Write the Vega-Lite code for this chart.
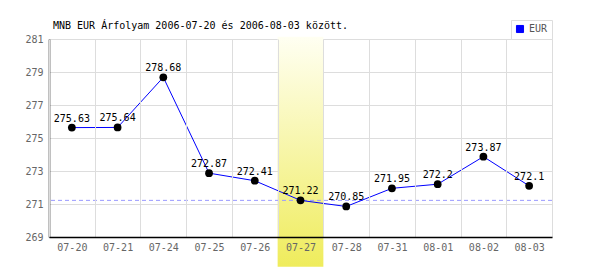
{
  "$schema": "https://vega.github.io/schema/vega-lite/v6.json",
  "autosize": "none",
  "width": 503,
  "height": 198,
  "padding": {"left": 49, "top": 39, "right": 48, "bottom": 33},
  "background": "white",
  "config": {
    "view": {"stroke": null},
    "font": "DejaVu Sans Mono",
    "axis": {"labelFont": "DejaVu Sans Mono", "labelFontSize": 10, "labelColor": "#666666", "gridColor": "#dddddd", "gridWidth": 1, "ticks": false, "domainColor": "#000000", "domainWidth": 1.5, "title": null, "labelOverlap": false}
  },
  "title": {"text": "MNB EUR Árfolyam 2006-07-20 és 2006-08-03 között.", "anchor": "start", "frame": "group", "dx": 4, "offset": -11, "font": "DejaVu Sans Mono", "fontSize": 10, "fontWeight": "normal", "color": "#000000"},
  "data": {"values": [
    {"date": "07-20", "rate": 275.63, "cur": "EUR"},
    {"date": "07-21", "rate": 275.64, "cur": "EUR"},
    {"date": "07-24", "rate": 278.68, "cur": "EUR"},
    {"date": "07-25", "rate": 272.87, "cur": "EUR"},
    {"date": "07-26", "rate": 272.41, "cur": "EUR"},
    {"date": "07-27", "rate": 271.22, "cur": "EUR"},
    {"date": "07-28", "rate": 270.85, "cur": "EUR"},
    {"date": "07-31", "rate": 271.95, "cur": "EUR"},
    {"date": "08-01", "rate": 272.2, "cur": "EUR"},
    {"date": "08-02", "rate": 273.87, "cur": "EUR"},
    {"date": "08-03", "rate": 272.1, "cur": "EUR"}
  ]},
  "layer": [
    {
      "data": {"values": [{"date": "07-27", "top": 281.14, "bottom": 267.2}]},
      "mark": {"type": "rect", "clip": false, "color": {"gradient": "linear", "x1": 0, "y1": 0, "x2": 0, "y2": 1, "stops": [{"offset": 0, "color": "#fffff2"}, {"offset": 1, "color": "#efec5c"}]}},
      "encoding": {
        "x": {"field": "date", "type": "nominal",
          "sort": ["07-20", "07-21", "07-24", "07-25", "07-26", "07-27", "07-28", "07-31", "08-01", "08-02", "08-03"],
          "scale": {"domain": ["07-20", "07-21", "07-24", "07-25", "07-26", "07-27", "07-28", "07-31", "08-01", "08-02", "08-03"], "paddingInner": 0, "paddingOuter": 0},
          "axis": {"labelAngle": 0, "grid": true, "tickBand": "extent", "labelPadding": 5, "zindex": 1}},
        "y": {"field": "top", "type": "quantitative", "scale": {"domain": [269, 281], "nice": false, "zero": false},
          "axis": {"values": [269, 271, 273, 275, 277, 279, 281], "grid": true, "labelPadding": 6, "zindex": 0}},
        "y2": {"field": "bottom"}
      }
    },
    {
      "data": {"values": [{"ref": 271.22}]},
      "mark": {"type": "rule", "color": "#9999ff", "strokeDash": [4, 3], "strokeWidth": 1},
      "encoding": {"y": {"field": "ref", "type": "quantitative", "axis": {"values": [269, 271, 273, 275, 277, 279, 281], "grid": true, "labelPadding": 6, "zindex": 0}}}
    },
    {
      "mark": {"type": "line", "strokeWidth": 1},
      "encoding": {
        "x": {"field": "date", "type": "nominal", "sort": null},
        "y": {"field": "rate", "type": "quantitative", "axis": {"values": [269, 271, 273, 275, 277, 279, 281], "grid": true, "labelPadding": 6, "zindex": 0}},
        "color": {"field": "cur", "type": "nominal", "scale": {"domain": ["EUR"], "range": ["#0000ff"]},
          "legend": {"orient": "none", "legendX": 462, "legendY": -19, "title": null, "symbolType": "square", "symbolSize": 50, "labelFont": "DejaVu Sans Mono", "labelFontSize": 10, "labelColor": "#555555", "padding": 4, "strokeColor": "#dddddd", "fillColor": "white",
            "encode": {"symbols": {"update": {"fill": {"value": "#0000ff"}, "stroke": {"value": "#000066"}, "strokeWidth": {"value": 1}}}}}}
      }
    },
    {
      "mark": {"type": "point", "filled": true, "color": "#000000", "size": 60, "opacity": 1},
      "encoding": {"x": {"field": "date", "type": "nominal", "sort": null}, "y": {"field": "rate", "type": "quantitative", "axis": {"values": [269, 271, 273, 275, 277, 279, 281], "grid": true, "labelPadding": 6, "zindex": 0}}}
    },
    {
      "mark": {"type": "text", "dy": -6, "baseline": "alphabetic", "fontSize": 10, "font": "DejaVu Sans Mono", "color": "#000000"},
      "encoding": {"x": {"field": "date", "type": "nominal", "sort": null}, "y": {"field": "rate", "type": "quantitative", "axis": {"values": [269, 271, 273, 275, 277, 279, 281], "grid": true, "labelPadding": 6, "zindex": 0}}, "text": {"field": "rate", "type": "quantitative"}}
    }
  ]
}
